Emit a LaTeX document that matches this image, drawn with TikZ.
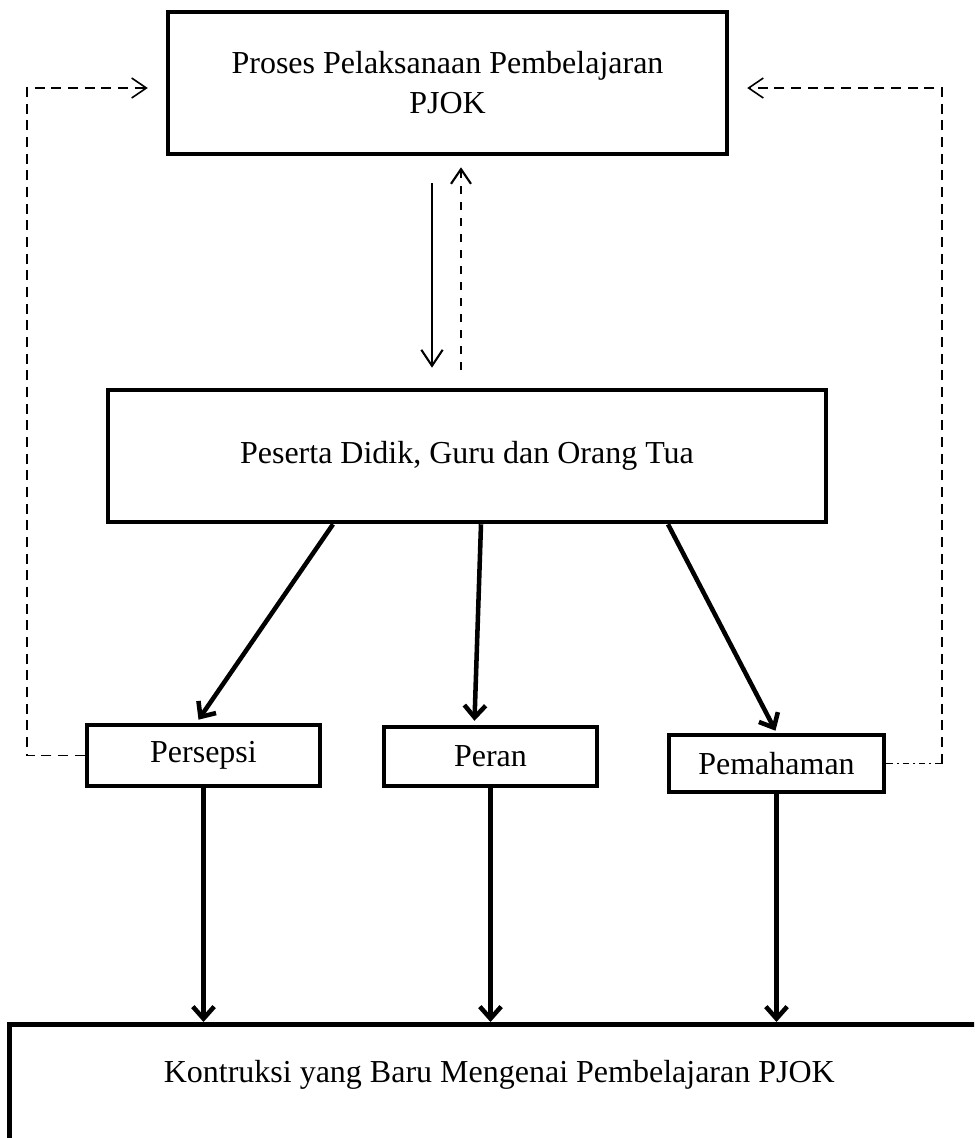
\documentclass[tikz,border=0pt]{standalone}
\usepackage{fontspec}
\setmainfont{Liberation Serif}
\usetikzlibrary{arrows.meta,calc}
\tikzset{
  kotak/.style={draw,line width=1.7pt,inner sep=0pt,align=center,font=\fontsize{12}{15}\selectfont},
  tebal/.style={line width=1.7pt,-{Straight Barb[length=4.5pt,width=8pt]}},
  tipis/.style={line width=0.8pt,-{Straight Barb[length=6pt,width=8pt]}},
  putus/.style={line width=0.6pt,dash pattern=on 3.75pt off 2.5pt,-{Straight Barb[length=5.5pt,width=7.5pt]}},
}
\begin{document}
\begin{tikzpicture}[x=0.375pt,y=-0.375pt]
\clip (0,0) rectangle (974,1138);
% kotak utama
\node[kotak,minimum width=209.6pt,minimum height=53.25pt] (proses) at (447.5,83) {Proses Pelaksanaan Pembelajaran\\PJOK};
\node[kotak,minimum width=269.25pt,minimum height=49.5pt] (peserta) at (467,456) {Peserta Didik, Guru dan Orang Tua};
\node[kotak,minimum width=87.4pt,minimum height=22.9pt] (persepsi) at (203.5,755.5) {Persepsi};
\node[kotak,minimum width=79.9pt,minimum height=22.1pt] (peran) at (490.5,756.5) {Peran};
\node[kotak,minimum width=80.6pt,minimum height=21.4pt] (pemahaman) at (776.5,763.5) {Pemahaman};
\node[kotak,anchor=north west,minimum width=367.5pt,text height=21.75pt,text depth=60pt] (kontruksi) at (7,1022) {Kontruksi yang Baru Mengenai Pembelajaran PJOK};
% panah tengah
\draw[tipis] ($(proses.south)+(-15.5,27)$) -- ($(peserta.north)+(-35,-20)$);
\draw[putus,line width=0.8pt,dash pattern=on 3pt off 3pt] ($(peserta.north)+(-6,-18)$) -- ($(proses.south)+(13.5,11)$);
\draw[tebal] ($(peserta.south)+(-134,0)$) -- ($(persepsi.north)+(-5,-3)$);
\draw[tebal] ($(peserta.south)+(14,0)$) -- ($(peran.north)+(-16,-4)$);
\draw[tebal] ($(peserta.south)+(201,0)$) -- ($(pemahaman.north)+(-1,-2)$);
\foreach \n in {persepsi,peran,pemahaman}
  \draw[tebal] (\n.south) -- (\n.south |- kontruksi.north);
% umpan balik
\draw[putus] (persepsi.west) -- ++(-58,0) |- ($(proses.west)+(-18,5)$);
\draw[line width=0.6pt,dash pattern=on 2.5pt off 1.5pt on 0.6pt off 1.5pt] (pemahaman.east) -- ++(56,0) coordinate (belok);
\draw[putus] (belok) |- ($(proses.east)+(18,5)$);
\end{tikzpicture}
\end{document}
